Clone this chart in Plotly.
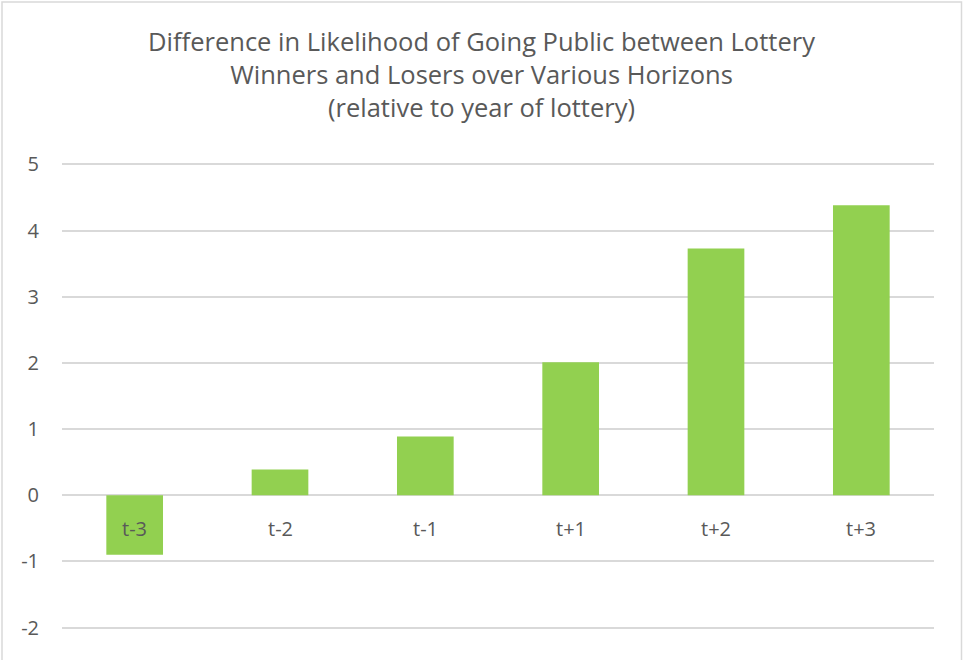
import plotly.graph_objects as go

categories = ["t-3", "t-2", "t-1", "t+1", "t+2", "t+3"]
values = [-0.9, 0.39, 0.89, 2.01, 3.73, 4.38]
y_ticks = [-2, -1, 0, 1, 2, 3, 4, 5]
y_tick_labels = ["-2", "-1", "0", "1", "2", "3", "4", "5"]

W, H = 963, 660
ML, MR, MT, MB = 62, 29, 161, 29
pw = W - ML - MR
ph = H - MT - MB

txt = "#595959"
grid = "#D9D9D9"
font = "Open Sans"

fig = go.Figure()
fig.add_trace(go.Bar(x=categories, y=values, marker=dict(color="#92D050", line=dict(width=0)),
                     hoverinfo="x+y"))

for c in categories:
    fig.add_annotation(x=c, y=0, xref="x", yref="y", text=c, showarrow=False,
                       yanchor="middle", yshift=-33, font=dict(size=20, color=txt, family=font))

fig.add_shape(type="rect", xref="paper", yref="paper",
              x0=(2 - ML) / pw, x1=(W - 1.5 - ML) / pw,
              y0=(-MB - 10) / ph, y1=(ph + MT - 2) / ph,
              line=dict(color=grid, width=1.5), layer="below")

fig.update_layout(
    width=W, height=H,
    margin=dict(l=ML, r=MR, t=MT, b=MB),
    paper_bgcolor="white", plot_bgcolor="white",
    bargap=0.61,
    showlegend=False,
    title=dict(text="Difference in Likelihood of Going Public between Lottery<br>Winners and Losers over Various Horizons<br>(relative to year of lottery)",
               x=0.5, xanchor="center", y=1 - 51 / H, yanchor="top",
               font=dict(size=25.5, color=txt, family=font)),
    xaxis=dict(showticklabels=False, showgrid=False, zeroline=False, showline=False, fixedrange=True),
    yaxis=dict(range=[-2.05, 5.05], tickvals=y_ticks, ticktext=y_tick_labels, showgrid=True,
               gridcolor=grid, gridwidth=1.5,
               zeroline=True, zerolinecolor=grid, zerolinewidth=1.5, showline=False,
               tickfont=dict(size=20, color=txt, family=font), ticklabelstandoff=22, fixedrange=True),
)

fig.write_html("out.html")
